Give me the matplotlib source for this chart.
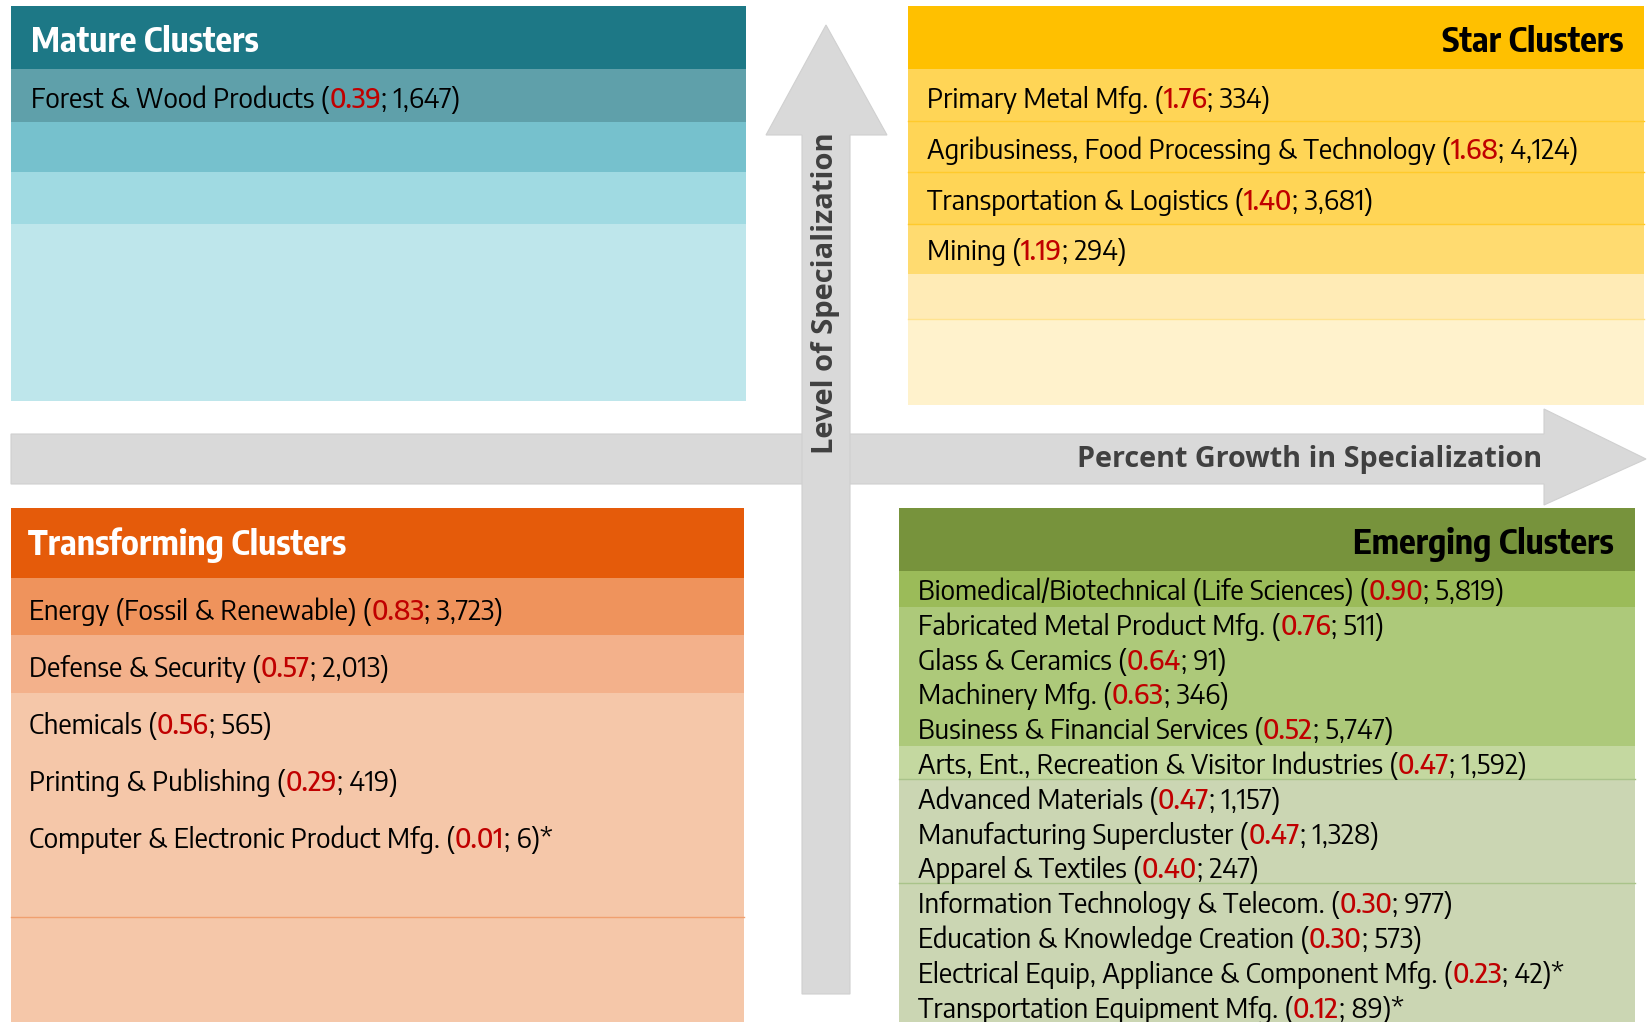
import matplotlib
matplotlib.use("Agg")
import matplotlib.pyplot as plt
import matplotlib.patches as mpatches

# ---- data -------------------------------------------------------------
mature_names = ["Forest & Wood Products"]
mature_lq = [0.39]
mature_jobs = [1647]
mature_note = [""]

star_names = [
    "Primary Metal Mfg.",
    "Agribusiness, Food Processing & Technology",
    "Transportation & Logistics",
    "Mining",
]
star_lq = [1.76, 1.68, 1.40, 1.19]
star_jobs = [334, 4124, 3681, 294]
star_note = ["", "", "", ""]

transforming_names = [
    "Energy (Fossil & Renewable)",
    "Defense & Security",
    "Chemicals",
    "Printing & Publishing",
    "Computer & Electronic Product Mfg.",
]
transforming_lq = [0.83, 0.57, 0.56, 0.29, 0.01]
transforming_jobs = [3723, 2013, 565, 419, 6]
transforming_note = ["", "", "", "", "*"]

emerging_names = [
    "Biomedical/Biotechnical (Life Sciences)",
    "Fabricated Metal Product Mfg.",
    "Glass & Ceramics",
    "Machinery Mfg.",
    "Business & Financial Services",
    "Arts, Ent., Recreation & Visitor Industries",
    "Advanced Materials",
    "Manufacturing Supercluster",
    "Apparel & Textiles",
    "Information Technology & Telecom.",
    "Education & Knowledge Creation",
    "Electrical Equip, Appliance & Component Mfg.",
    "Transportation Equipment Mfg.",
]
emerging_lq = [0.90, 0.76, 0.64, 0.63, 0.52, 0.47, 0.47, 0.47, 0.40, 0.30, 0.30, 0.23, 0.12]
emerging_jobs = [5819, 511, 91, 346, 5747, 1592, 1157, 1328, 247, 977, 573, 42, 89]
emerging_note = [""] * 11 + ["*", "*"]

# ---- style ------------------------------------------------------------
W, H = 1649, 1022
ITEM_FONT = ["Encode Sans Semi Condensed", "Liberation Sans", "DejaVu Sans"]
HEAD_FONT = ["Encode Sans Condensed", "Liberation Sans", "DejaVu Sans"]
AXIS_FONT = ["Open Sans", "DejaVu Sans"]
RED = "#c00000"
GREY = "#d9d9d9"
LABEL = "#404040"
ITEM_SIZE = 20
HEAD_SIZE = 25

fig = plt.figure(figsize=(W / 100, H / 100), dpi=100, facecolor="white")
ax = fig.add_axes([0, 0, 1, 1])
ax.set_xlim(0, W)
ax.set_ylim(H, 0)
ax.axis("off")


def band(x0, x1, y0, y1, color, z=1):
    ax.add_patch(mpatches.Rectangle((x0, y0), x1 - x0, y1 - y0,
                                    facecolor=color, edgecolor="none", zorder=z))


def hline(x0, x1, y, color):
    ax.plot([x0, x1], [y, y], color=color, lw=1.0, zorder=2)


def item(x, y, name, lq, jobs, note):
    # name in black, location quotient in red, job count in black
    t = ax.text(x, y, f"{name} (", ha="left", va="center", fontsize=ITEM_SIZE,
                family=ITEM_FONT, color="black", zorder=5)
    parts = [(f"{lq:.2f}", RED, "medium"), (f"; {jobs:,})" + note, "black", "normal")]
    for s, c, wt in parts:
        t = ax.annotate(s, xy=(1, 0), xycoords=t, ha="left", va="bottom",
                        fontsize=ITEM_SIZE, fontweight=wt, family=ITEM_FONT,
                        color=c, zorder=5)


def header(x, y, s, ha, color):
    ax.text(x, y, s, ha=ha, va="center", fontsize=HEAD_SIZE, fontweight="bold",
            family=HEAD_FONT, color=color, zorder=5)


# ---- arrows -----------------------------------------------------------
ax.add_patch(mpatches.Polygon(
    [(11, 434), (1544, 434), (1544, 409), (1646, 459), (1544, 505), (1544, 484), (11, 484)],
    closed=True, facecolor=GREY, edgecolor="#d0d0d0", lw=0.8, zorder=1))
ax.add_patch(mpatches.Polygon(
    [(802, 994), (802, 135), (766, 135), (826, 25), (887, 135), (850, 135), (850, 994)],
    closed=True, facecolor=GREY, edgecolor="#d0d0d0", lw=0.8, zorder=1))
ax.text(826, 454, "Level of Specialization", rotation=90, ha="center", va="bottom",
        fontsize=21, fontweight="bold", family=AXIS_FONT, color=LABEL, zorder=5)
ax.text(1542, 459, "Percent Growth in Specialization", ha="right", va="center",
        fontsize=20.7, fontweight="bold", family=AXIS_FONT, color=LABEL, zorder=5)

# ---- Mature (top left) ------------------------------------------------
mx0, mx1 = 11, 746
band(mx0, mx1, 6, 69, "#1d7886")
band(mx0, mx1, 69, 122, "#5fa0aa")
band(mx0, mx1, 122, 172, "#76c1cd")
band(mx0, mx1, 172, 224, "#a0dae2")
band(mx0, mx1, 224, 401, "#bee6eb")
header(31, 43, "Mature Clusters", "left", "white")
for i in range(len(mature_names)):
    item(31, 100 + 51 * i, mature_names[i], mature_lq[i], mature_jobs[i], mature_note[i])

# ---- Star (top right) -------------------------------------------------
sx0, sx1 = 908, 1644
band(sx0, sx1, 6, 69, "#ffc000")
band(sx0, sx1, 69, 224, "#ffd556")
band(sx0, sx1, 224, 274, "#ffdb70")
band(sx0, sx1, 274, 319, "#ffebb6")
band(sx0, sx1, 319, 405, "#fff2cc")
for y in (121, 172, 224):
    hline(sx0, sx1, y, "#ffca2c")
hline(sx0, sx1, 319, "#ffe38f")
header(1623, 43, "Star Clusters", "right", "black")
for i in range(len(star_names)):
    item(927, 100 + 50.8 * i, star_names[i], star_lq[i], star_jobs[i], star_note[i])

# ---- Transforming (bottom left) ---------------------------------------
tx0, tx1 = 11, 744
band(tx0, tx1, 508, 578, "#e55b0a")
band(tx0, tx1, 578, 635, "#ef935c")
band(tx0, tx1, 635, 693, "#f3b18b")
band(tx0, tx1, 693, 1022, "#f5c7a9")
hline(tx0, tx1, 917, "#f0a070")
header(28, 545, "Transforming Clusters", "left", "white")
for i in range(len(transforming_names)):
    item(29, 612 + 57 * i, transforming_names[i], transforming_lq[i],
         transforming_jobs[i], transforming_note[i])

# ---- Emerging (bottom right) ------------------------------------------
ex0, ex1 = 899, 1635
band(ex0, ex1, 508, 571, "#77933c")
band(ex0, ex1, 571, 607, "#9bbb59")
band(ex0, ex1, 607, 746, "#adc97a")
band(ex0, ex1, 746, 779, "#c4d8a0")
band(ex0, ex1, 779, 1022, "#cbd6b3")
hline(ex0, ex1, 779, "#a9c38a")
hline(ex0, ex1, 883, "#a9c38a")
header(1614, 545, "Emerging Clusters", "right", "black")
for i in range(len(emerging_names)):
    item(918, 592 + 34.8 * i, emerging_names[i], emerging_lq[i],
         emerging_jobs[i], emerging_note[i])

fig.savefig("out.png", dpi=100, facecolor="white")
